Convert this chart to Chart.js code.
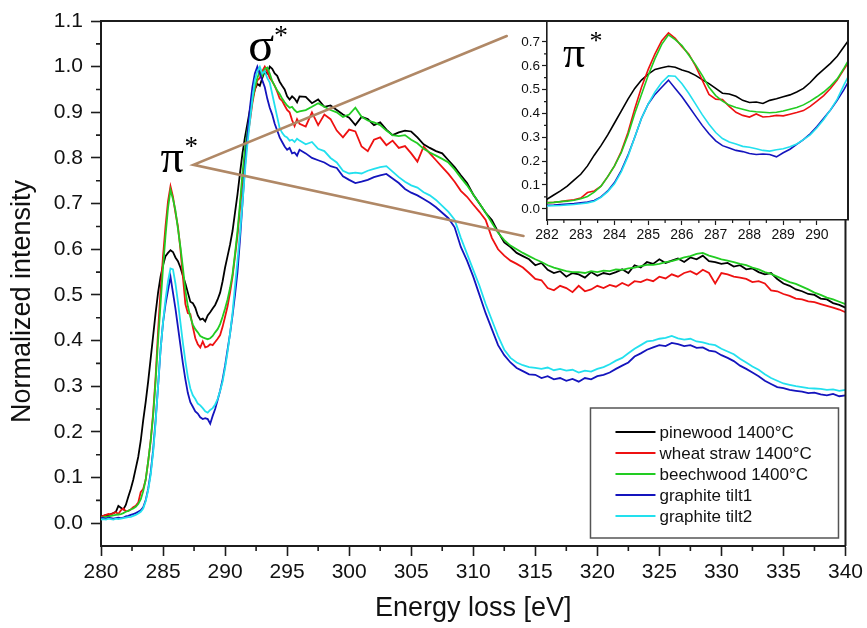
<!DOCTYPE html>
<html>
<head>
<meta charset="utf-8">
<title>Carbon K-edge ELNES</title>
<script src="https://cdn.jsdelivr.net/npm/chart.js@4.4.1/dist/chart.umd.min.js"></script>
<style>
html,body{margin:0;padding:0;background:#fff;}
#wrap{position:relative;width:867px;height:628px;overflow:hidden;background:#fff;}
#main{position:absolute;left:0;top:0;}
#inset{position:absolute;left:500px;top:0;}
</style>
</head>
<body>
<div id="wrap">
<canvas id="main" width="867" height="628"></canvas>
<canvas id="inset" width="367" height="250"></canvas>
</div>
<script>
// Energy-loss axis (eV): fine sampling over the pi*/sigma* edge, coarser beyond
const energy = [
  280.0, 280.2, 280.4, 280.6, 280.8, 281.0, 281.2, 281.4, 281.6, 281.8,
  282.0, 282.2, 282.4, 282.6, 282.8, 283.0, 283.2, 283.4, 283.6, 283.8,
  284.0, 284.2, 284.4, 284.6, 284.8, 285.0, 285.2, 285.4, 285.6, 285.8,
  286.0, 286.2, 286.4, 286.6, 286.8, 287.0, 287.2, 287.4, 287.6, 287.8,
  288.0, 288.2, 288.4, 288.6, 288.8, 289.0, 289.2, 289.4, 289.6, 289.8,
  290.0, 290.2, 290.4, 290.6, 290.8, 291.0, 291.2, 291.4, 291.6, 291.8,
  292.0, 292.2, 292.4, 292.6, 292.8, 293.0, 293.2, 293.4, 293.6, 293.8,
  294.0, 294.2, 294.4, 294.6, 294.8, 295.0, 295.2, 295.4, 295.6, 295.8,
  296.0,
  296.5, 297.0, 297.5, 298.0, 298.5, 299.0, 299.5, 300.0, 300.5, 301.0,
  301.5, 302.0, 302.5, 303.0, 303.5, 304.0, 304.5, 305.0, 305.5, 306.0,
  306.5, 307.0, 307.5, 308.0, 308.5, 309.0, 309.5, 310.0, 310.5, 311.0,
  311.5, 312.0, 312.5, 313.0, 313.5, 314.0, 314.5, 315.0, 315.5, 316.0,
  316.5, 317.0, 317.5, 318.0, 318.5, 319.0, 319.5, 320.0, 320.5, 321.0,
  321.5, 322.0, 322.5, 323.0, 323.5, 324.0, 324.5, 325.0, 325.5, 326.0,
  326.5, 327.0, 327.5, 328.0, 328.5, 329.0, 329.5, 330.0, 330.5, 331.0,
  331.5, 332.0, 332.5, 333.0, 333.5, 334.0, 334.5, 335.0, 335.5, 336.0,
  336.5, 337.0, 337.5, 338.0, 338.5, 339.0, 339.5, 340.0
];

const pinewood = [
  0.015, 0.016, 0.018, 0.017, 0.020, 0.022, 0.025, 0.038, 0.034, 0.030,
  0.040, 0.058, 0.075, 0.095, 0.120, 0.145, 0.180, 0.225, 0.265, 0.310,
  0.360, 0.410, 0.460, 0.505, 0.540, 0.565, 0.585, 0.592, 0.598, 0.594,
  0.582, 0.574, 0.560, 0.542, 0.525, 0.505, 0.485, 0.482, 0.472, 0.455,
  0.446, 0.448, 0.442, 0.455, 0.462, 0.470, 0.478, 0.490, 0.505, 0.530,
  0.560, 0.585, 0.610, 0.640, 0.680, 0.720, 0.766, 0.810, 0.845, 0.875,
  0.905, 0.930, 0.950, 0.962, 0.958, 0.975, 0.990, 0.985, 1.000, 0.995,
  0.985, 0.980, 0.967, 0.958, 0.950, 0.935, 0.928, 0.935, 0.930, 0.922,
  0.935,
  0.934, 0.920, 0.928, 0.912, 0.915, 0.905, 0.895, 0.888, 0.872, 0.890,
  0.885, 0.872, 0.878, 0.862, 0.850, 0.856, 0.860, 0.858, 0.845, 0.830,
  0.822, 0.815, 0.810, 0.795, 0.780, 0.762, 0.745, 0.720, 0.700, 0.680,
  0.664, 0.638, 0.615, 0.605, 0.592, 0.585, 0.578, 0.565, 0.570, 0.555,
  0.548, 0.552, 0.540, 0.548, 0.545, 0.538, 0.550, 0.542, 0.548, 0.545,
  0.550, 0.556, 0.548, 0.565, 0.560, 0.572, 0.568, 0.578, 0.570, 0.575,
  0.580, 0.572, 0.582, 0.578, 0.586, 0.574, 0.572, 0.568, 0.570, 0.562,
  0.565, 0.556, 0.558, 0.550, 0.545, 0.548, 0.535, 0.525, 0.520, 0.512,
  0.508, 0.502, 0.500, 0.492, 0.490, 0.482, 0.478, 0.472
];

const wheatStraw = [
  0.014, 0.016, 0.018, 0.020, 0.019, 0.022, 0.024, 0.020, 0.028, 0.032,
  0.026, 0.027, 0.030, 0.035, 0.038, 0.045, 0.068, 0.075, 0.095, 0.135,
  0.180, 0.240, 0.320, 0.420, 0.510, 0.585, 0.650, 0.705, 0.738, 0.715,
  0.680, 0.650, 0.600, 0.540, 0.480, 0.460, 0.458, 0.430, 0.405, 0.392,
  0.385, 0.398, 0.385, 0.387, 0.392, 0.390, 0.397, 0.404, 0.412, 0.430,
  0.452, 0.475, 0.505, 0.540, 0.585, 0.630, 0.690, 0.750, 0.800, 0.845,
  0.880, 0.920, 0.950, 0.970, 0.975, 0.990, 1.000, 0.990, 0.975, 0.968,
  0.958, 0.945, 0.930, 0.925, 0.915, 0.905, 0.900, 0.883, 0.870, 0.885,
  0.875,
  0.869, 0.900, 0.872, 0.895, 0.885, 0.860, 0.845, 0.862, 0.858, 0.825,
  0.815, 0.840, 0.845, 0.828, 0.838, 0.822, 0.826, 0.810, 0.792, 0.825,
  0.810, 0.795, 0.780, 0.765, 0.748, 0.728, 0.715, 0.698, 0.682, 0.664,
  0.625, 0.600, 0.586, 0.575, 0.568, 0.560, 0.548, 0.535, 0.532, 0.515,
  0.510, 0.520, 0.515, 0.506, 0.520, 0.508, 0.512, 0.520, 0.515, 0.522,
  0.518, 0.526, 0.520, 0.530, 0.528, 0.534, 0.530, 0.540, 0.536, 0.545,
  0.540, 0.548, 0.552, 0.545, 0.555, 0.548, 0.525, 0.548, 0.545, 0.540,
  0.538, 0.535, 0.528, 0.530, 0.525, 0.510, 0.508, 0.502, 0.498, 0.492,
  0.490, 0.486, 0.484, 0.480, 0.476, 0.472, 0.468, 0.462
];

const beechwood = [
  0.012, 0.013, 0.014, 0.015, 0.016, 0.017, 0.018, 0.019, 0.020, 0.022,
  0.025, 0.027, 0.030, 0.032, 0.036, 0.042, 0.052, 0.070, 0.095, 0.135,
  0.180, 0.235, 0.310, 0.400, 0.480, 0.560, 0.630, 0.690, 0.730, 0.710,
  0.685, 0.645, 0.605, 0.560, 0.510, 0.475, 0.452, 0.435, 0.425, 0.418,
  0.410, 0.407, 0.405, 0.403, 0.405, 0.410, 0.418, 0.425, 0.436, 0.452,
  0.470, 0.490, 0.515, 0.545, 0.590, 0.640, 0.700, 0.766, 0.820, 0.860,
  0.890, 0.925, 0.955, 0.975, 0.990, 0.980, 0.995, 0.998, 0.985, 0.968,
  0.958, 0.948, 0.940, 0.930, 0.922, 0.915, 0.910, 0.912, 0.905, 0.900,
  0.902,
  0.905, 0.912, 0.920, 0.912, 0.905, 0.900, 0.890, 0.895, 0.910, 0.890,
  0.882, 0.878, 0.872, 0.860, 0.850, 0.848, 0.850, 0.840, 0.832, 0.820,
  0.812, 0.805, 0.798, 0.790, 0.775, 0.757, 0.740, 0.720, 0.700, 0.680,
  0.658, 0.636, 0.620, 0.608, 0.600, 0.592, 0.585, 0.578, 0.572, 0.565,
  0.560, 0.556, 0.552, 0.550, 0.550, 0.548, 0.552, 0.550, 0.553, 0.552,
  0.556, 0.555, 0.558, 0.560, 0.563, 0.566, 0.566, 0.568, 0.572, 0.574,
  0.578, 0.582, 0.585, 0.590, 0.592, 0.586, 0.582, 0.578, 0.575, 0.572,
  0.568, 0.565, 0.560, 0.556, 0.550, 0.546, 0.540, 0.534, 0.528, 0.524,
  0.518, 0.512, 0.505, 0.500, 0.494, 0.490, 0.485, 0.480
];

const graphiteTilt1 = [
  0.012, 0.011, 0.010, 0.012, 0.011, 0.010, 0.011, 0.012, 0.011, 0.012,
  0.015, 0.016, 0.018, 0.020, 0.022, 0.025, 0.028, 0.035, 0.050, 0.075,
  0.110, 0.160, 0.225, 0.300, 0.380, 0.440, 0.480, 0.510, 0.540, 0.505,
  0.470, 0.430, 0.390, 0.350, 0.315, 0.285, 0.265, 0.255, 0.245, 0.240,
  0.232, 0.228, 0.230, 0.228, 0.218, 0.235, 0.250, 0.270, 0.290, 0.315,
  0.345, 0.380, 0.415, 0.455, 0.500, 0.550, 0.620, 0.700, 0.780, 0.850,
  0.910, 0.955, 0.985, 1.000, 0.985, 0.970, 0.955, 0.930, 0.910, 0.895,
  0.875, 0.860, 0.845, 0.835, 0.825, 0.818, 0.822, 0.810, 0.812, 0.805,
  0.818,
  0.810, 0.800, 0.795, 0.790, 0.782, 0.778, 0.760, 0.752, 0.745, 0.748,
  0.752, 0.758, 0.762, 0.765, 0.755, 0.745, 0.732, 0.724, 0.718, 0.710,
  0.702, 0.692, 0.680, 0.668, 0.648, 0.605, 0.575, 0.540, 0.500, 0.460,
  0.425, 0.390, 0.368, 0.352, 0.340, 0.333, 0.326, 0.325, 0.318, 0.322,
  0.315, 0.318, 0.312, 0.316, 0.310, 0.318, 0.315, 0.322, 0.325, 0.330,
  0.338, 0.345, 0.352, 0.365, 0.372, 0.380, 0.385, 0.390, 0.388, 0.395,
  0.392, 0.388, 0.390, 0.384, 0.385, 0.378, 0.376, 0.368, 0.362, 0.355,
  0.345, 0.338, 0.330, 0.322, 0.312, 0.305, 0.298, 0.296, 0.292, 0.290,
  0.288, 0.285, 0.286, 0.282, 0.280, 0.283, 0.278, 0.280
];

const graphiteTilt2 = [
  0.008, 0.009, 0.008, 0.010, 0.009, 0.008, 0.010, 0.009, 0.010, 0.011,
  0.012, 0.013, 0.014, 0.016, 0.018, 0.021, 0.025, 0.032, 0.048, 0.072,
  0.105, 0.155, 0.220, 0.300, 0.380, 0.440, 0.490, 0.530, 0.558, 0.556,
  0.525, 0.485, 0.440, 0.395, 0.355, 0.320, 0.295, 0.280, 0.272, 0.262,
  0.258, 0.252, 0.245, 0.242, 0.248, 0.252, 0.260, 0.272, 0.290, 0.310,
  0.340, 0.375, 0.415, 0.460, 0.520, 0.575, 0.635, 0.700, 0.770, 0.830,
  0.880, 0.930, 0.970, 0.990, 1.000, 0.985, 0.990, 0.975, 0.965, 0.940,
  0.915, 0.890, 0.865, 0.855, 0.848, 0.845, 0.838, 0.840, 0.835, 0.842,
  0.838,
  0.830, 0.835, 0.820, 0.815, 0.800, 0.790, 0.772, 0.766, 0.768, 0.766,
  0.772, 0.776, 0.780, 0.782, 0.770, 0.758, 0.748, 0.740, 0.735, 0.725,
  0.718, 0.708, 0.695, 0.682, 0.665, 0.625, 0.590, 0.555, 0.520, 0.480,
  0.445, 0.410, 0.380, 0.362, 0.352, 0.346, 0.342, 0.340, 0.338, 0.341,
  0.335, 0.338, 0.334, 0.336, 0.330, 0.334, 0.332, 0.338, 0.342, 0.348,
  0.356, 0.362, 0.372, 0.382, 0.390, 0.398, 0.400, 0.404, 0.406, 0.410,
  0.405, 0.402, 0.404, 0.398, 0.396, 0.392, 0.390, 0.382, 0.376, 0.370,
  0.360, 0.352, 0.343, 0.336, 0.326, 0.318, 0.312, 0.306, 0.303, 0.300,
  0.298, 0.296, 0.295, 0.294, 0.292, 0.293, 0.290, 0.292
];

const seriesNames = ['pinewood 1400°C', 'wheat straw 1400°C', 'beechwood 1400°C', 'graphite tilt1', 'graphite tilt2'];
const seriesValues = [pinewood, wheatStraw, beechwood, graphiteTilt1, graphiteTilt2];
const seriesColors = ['#000000', '#ee1111', '#22cc22', '#1414bd', '#22e0ee'];

// Axis ticks
const mainXTicks = [280, 285, 290, 295, 300, 305, 310, 315, 320, 325, 330, 335, 340];
const mainYTicks = [0.0, 0.1, 0.2, 0.3, 0.4, 0.5, 0.6, 0.7, 0.8, 0.9, 1.0, 1.1];
const insetXTicks = [282, 283, 284, 285, 286, 287, 288, 289, 290];
const insetYTicks = [0.0, 0.1, 0.2, 0.3, 0.4, 0.5, 0.6, 0.7];

// Edge labels and the guide lines that point from pi* to the inset (data units)
const sigmaLabelAt = [292.9, 1.012];
const piLabelAt = [285.74, 0.769];
const guideStart = [287.45, 0.785];
const guideUpperEnd = [312.7, 1.067];
const guideLowerEnd = [314.05, 0.629];
const insetPiLabelAt = [282.8, 0.594];

const SANS = '"Liberation Sans", Arial, Helvetica, sans-serif';
const SERIF = '"Liberation Serif", "Times New Roman", serif';
const AXIS = '#1c1c1c';

function buildDatasets(width) {
  return seriesNames.map((name, k) => ({
    label: name,
    data: energy.map((e, i) => ({ x: e, y: seriesValues[k][i] })),
    borderColor: seriesColors[k],
    backgroundColor: seriesColors[k],
    borderWidth: width,
    pointRadius: 0,
    tension: 0,
    fill: false,
    order: seriesNames.length - k
  }));
}

function minorTicks(ctx, scale, area, len, horizontal) {
  const vals = scale.ticks.map(t => t.value);
  ctx.beginPath();
  for (let i = 0; i < vals.length - 1; i++) {
    const p = scale.getPixelForValue((vals[i] + vals[i + 1]) / 2);
    if (horizontal) { ctx.moveTo(p, area.bottom); ctx.lineTo(p, area.bottom + len); }
    else { ctx.moveTo(area.left, p); ctx.lineTo(area.left - len, p); }
  }
  ctx.stroke();
}

function starLabel(ctx, x, y, size, glyph, starDx, starDy) {
  ctx.fillStyle = '#000';
  ctx.textAlign = 'center';
  ctx.textBaseline = 'alphabetic';
  ctx.font = size + 'px ' + SERIF;
  ctx.fillText(glyph, x, y);
  ctx.font = Math.round(size * 0.58) + 'px ' + SERIF;
  ctx.fillText('*', x + starDx, y + starDy);
}

const mainDecor = {
  id: 'mainDecor',
  afterDraw(chart) {
    const { ctx, chartArea: a, scales: { x, y } } = chart;
    ctx.save();
    // frame: top and right edges
    ctx.strokeStyle = AXIS;
    ctx.lineWidth = 2;
    ctx.beginPath();
    ctx.moveTo(a.left, a.top); ctx.lineTo(a.right, a.top); ctx.lineTo(a.right, a.bottom);
    ctx.stroke();
    // minor ticks
    ctx.lineWidth = 1.6;
    minorTicks(ctx, x, a, 5, true);
    minorTicks(ctx, y, a, 5, false);

    // guide lines from the pi* label to the inset
    ctx.strokeStyle = '#b08866';
    ctx.lineWidth = 2.6;
    ctx.lineCap = 'round';
    ctx.beginPath();
    ctx.moveTo(x.getPixelForValue(guideUpperEnd[0]), y.getPixelForValue(guideUpperEnd[1]));
    ctx.lineTo(x.getPixelForValue(guideStart[0]), y.getPixelForValue(guideStart[1]));
    ctx.lineTo(x.getPixelForValue(guideLowerEnd[0]), y.getPixelForValue(guideLowerEnd[1]));
    ctx.stroke();

    // edge labels
    starLabel(ctx, x.getPixelForValue(sigmaLabelAt[0]), y.getPixelForValue(sigmaLabelAt[1]), 48, 'σ', 20, -17);
    starLabel(ctx, x.getPixelForValue(piLabelAt[0]), y.getPixelForValue(piLabelAt[1]), 46, 'π', 19, -17);

    // axis titles
    ctx.fillStyle = '#111';
    ctx.font = '27px ' + SANS;
    ctx.textAlign = 'center';
    ctx.textBaseline = 'middle';
    ctx.fillText('Energy loss [eV]', (a.left + a.right) / 2, 609);
    ctx.save();
    ctx.translate(23, (a.top + a.bottom) / 2 + 18);
    ctx.rotate(-Math.PI / 2);
    ctx.fillText('Normalized intensity', 0, 0);
    ctx.restore();

    // legend
    const bx = a.right - 255, by = a.bottom - 138, bw = 248, bh = 130;
    ctx.fillStyle = '#fff';
    ctx.fillRect(bx, by, bw, bh);
    ctx.strokeStyle = '#555';
    ctx.lineWidth = 1.5;
    ctx.strokeRect(bx, by, bw, bh);
    ctx.font = '17px ' + SANS;
    ctx.textAlign = 'left';
    ctx.textBaseline = 'middle';
    seriesNames.forEach((name, k) => {
      const ry = by + 24 + k * 21;
      ctx.strokeStyle = seriesColors[k];
      ctx.lineWidth = 2;
      ctx.lineCap = 'butt';
      ctx.beginPath(); ctx.moveTo(bx + 25, ry); ctx.lineTo(bx + 65, ry); ctx.stroke();
      ctx.fillStyle = '#111';
      ctx.fillText(name, bx + 69, ry + 1);
    });
    ctx.restore();
  }
};

new Chart(document.getElementById('main'), {
  type: 'line',
  data: { datasets: buildDatasets(1.8) },
  options: {
    responsive: false,
    animation: false,
    events: [],
    layout: { padding: { left: 0, top: 21, right: 19, bottom: 0 } },
    plugins: { legend: { display: false }, tooltip: { enabled: false } },
    scales: {
      x: {
        type: 'linear', min: 280, max: 340,
        afterBuildTicks: s => { s.ticks = mainXTicks.map(v => ({ value: v })); },
        afterFit: s => { s.height = 82; },
        ticks: { font: { family: SANS, size: 21 }, color: '#111', padding: 4, maxRotation: 0, autoSkip: false, callback: v => String(v) },
        grid: { drawOnChartArea: false, drawTicks: true, tickLength: 10, tickWidth: 1.6, tickColor: AXIS },
        border: { display: true, color: AXIS, width: 2 }
      },
      y: {
        type: 'linear', min: -0.05, max: 1.1,
        afterBuildTicks: s => { s.ticks = mainYTicks.map(v => ({ value: v })); },
        afterFit: s => { s.width = 101; },
        ticks: { font: { family: SANS, size: 21 }, color: '#111', padding: 8, autoSkip: false, callback: v => v.toFixed(1) },
        grid: { drawOnChartArea: false, drawTicks: true, tickLength: 10, tickWidth: 1.6, tickColor: AXIS },
        border: { display: true, color: AXIS, width: 2 }
      }
    }
  },
  plugins: [mainDecor]
});

const insetDecor = {
  id: 'insetDecor',
  beforeDraw(chart) {
    const { ctx, chartArea: a } = chart;
    ctx.save();
    ctx.fillStyle = '#fff';
    ctx.fillRect(a.left, a.top, a.right - a.left, a.bottom - a.top);
    ctx.restore();
  },
  afterDraw(chart) {
    const { ctx, chartArea: a, scales: { x, y } } = chart;
    ctx.save();
    ctx.strokeStyle = AXIS;
    ctx.lineWidth = 2;
    ctx.beginPath();
    ctx.moveTo(a.left, a.top); ctx.lineTo(a.right, a.top); ctx.lineTo(a.right, a.bottom);
    ctx.stroke();
    ctx.lineWidth = 1.2;
    minorTicks(ctx, x, a, 3, true);
    minorTicks(ctx, y, a, 3, false);
    starLabel(ctx, x.getPixelForValue(insetPiLabelAt[0]), y.getPixelForValue(insetPiLabelAt[1]), 44, 'π', 22, -18);
    ctx.restore();
  }
};

new Chart(document.getElementById('inset'), {
  type: 'line',
  data: { datasets: buildDatasets(1.6) },
  options: {
    responsive: false,
    animation: false,
    events: [],
    layout: { padding: { left: 0, top: 21, right: 19, bottom: 0 } },
    plugins: { legend: { display: false }, tooltip: { enabled: false } },
    scales: {
      x: {
        type: 'linear', min: 282, max: 290.92,
        afterBuildTicks: s => { s.ticks = insetXTicks.map(v => ({ value: v })); },
        afterFit: s => { s.height = 30; },
        ticks: { font: { family: SANS, size: 14 }, color: '#111', padding: 2, maxRotation: 0, autoSkip: false, callback: v => String(v) },
        grid: { drawOnChartArea: false, drawTicks: true, tickLength: 5, tickWidth: 1.2, tickColor: AXIS },
        border: { display: true, color: AXIS, width: 1.6 }
      },
      y: {
        type: 'linear', min: -0.047, max: 0.788,
        afterBuildTicks: s => { s.ticks = insetYTicks.map(v => ({ value: v })); },
        afterFit: s => { s.width = 47; },
        ticks: { font: { family: SANS, size: 13.5 }, color: '#111', padding: 2, autoSkip: false, callback: v => v.toFixed(1) },
        grid: { drawOnChartArea: false, drawTicks: true, tickLength: 5, tickWidth: 1.2, tickColor: AXIS },
        border: { display: true, color: AXIS, width: 1.6 }
      }
    }
  },
  plugins: [insetDecor]
});
</script>
</body>
</html>
